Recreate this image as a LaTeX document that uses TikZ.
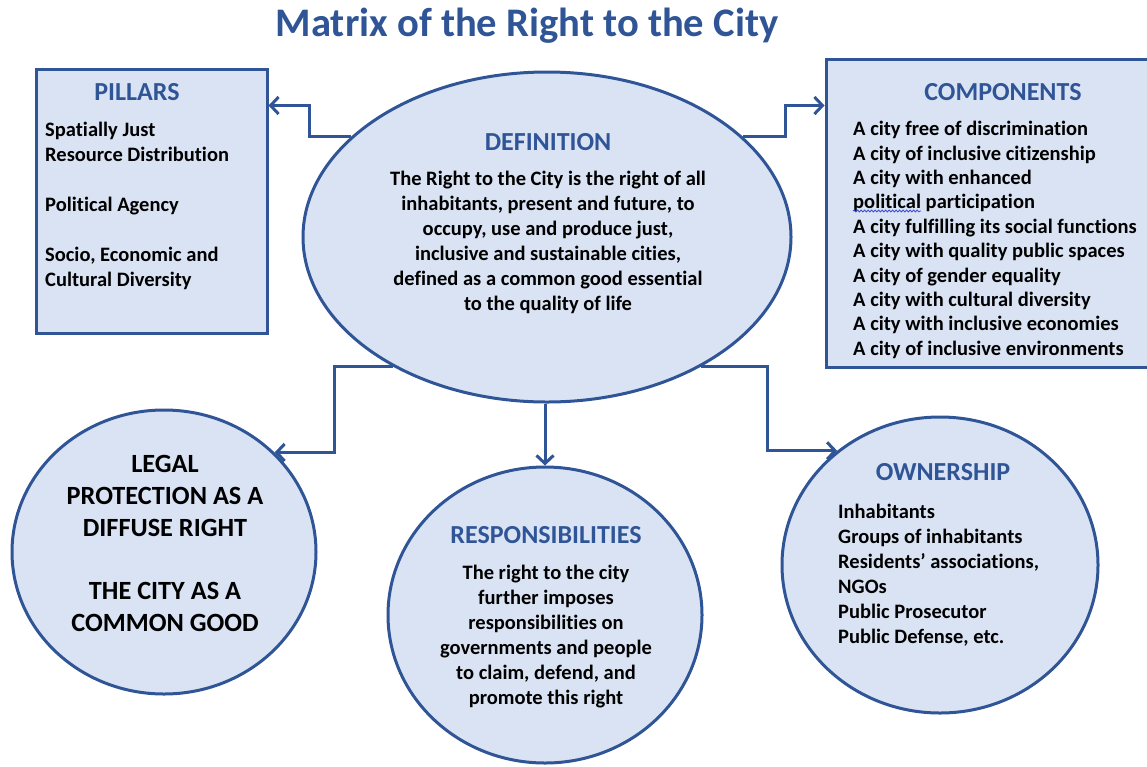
\documentclass[tikz,border=0pt]{standalone}
\usepackage{fontspec}
\setmainfont{Carlito}[Ligatures=CommonOff]
\usetikzlibrary{arrows.meta,shapes.geometric,decorations.pathmorphing}
\definecolor{bordercol}{HTML}{2F5597}
\definecolor{fillcol}{HTML}{DAE3F3}
\definecolor{headcol}{HTML}{2F5597}
\definecolor{spellcol}{HTML}{3A4FD0}
\begin{document}
\begin{tikzpicture}[x=1pt,y=-1pt,
  frame/.style={draw=bordercol, fill=fillcol, line width=3pt, rectangle, inner sep=0pt},
  oval/.style={draw=bordercol, fill=fillcol, line width=3pt, ellipse, inner sep=0pt},
  conn/.style={draw=bordercol, line width=3pt, -{Straight Barb[length=8pt,width=17pt]}},
  titletext/.style={text=headcol, font=\fontsize{40.6}{48}\selectfont\bfseries, inner sep=0pt},
  head/.style={text=headcol, font=\fontsize{26}{30}\selectfont\bfseries, inner sep=0pt},
  body/.style={text=black, font=\fontsize{20.5}{25}\selectfont\bfseries, inner sep=0pt},
  bigbody/.style={text=black, font=\fontsize{26.3}{31.8}\selectfont\bfseries, inner sep=0pt},
]
\useasboundingbox (0,0) rectangle (1147,766);
\clip (0,0) rectangle (1147,766);

% shapes
\node[frame, minimum width=231pt, minimum height=264pt] (pillars) at (151.5,201) {};
\node[frame, minimum width=322pt, minimum height=308pt] (comp) at (987,213) {};
\node[oval, minimum width=488pt, minimum height=330pt] (def) at (547,237) {};
\node[oval, minimum width=304pt, minimum height=284pt] (legal) at (164,552) {};
\node[oval, minimum width=314pt, minimum height=296pt] (resp) at (545,615) {};
\node[oval, minimum width=316pt, minimum height=296pt] (own) at (940,565) {};

% connectors
\draw[conn] (def.153) -| ([xshift=41pt,yshift=-38pt]pillars.north east) -- ([yshift=-38pt]pillars.north east);
\draw[conn] (def.27) -| ([xshift=-39pt,yshift=-48pt]comp.north west) -- ([yshift=-48pt]comp.north west);
\draw[conn] (def.220) -| ([xshift=60pt]legal.42) -- (legal.42);
\draw[conn] (def.south -| resp.north) -- (resp.north);
\draw[conn] (def.320) -| ([xshift=-70pt]own.132) -- (own.132);

% texts
\node[titletext] (ttl) at (527,26) {Matrix of the Right to the City};

\node[head] (pilh) at (137,92) {PILLARS};
\node[body, align=left, anchor=west] (pilb) at (45,205.5)
  {Spatially Just\\Resource Distribution\\[25pt]Political Agency\\[25pt]Socio, Economic and\\Cultural Diversity};

\node[head] (comph) at (1003,92) {COMPONENTS};
\node[body, align=left, anchor=west, font=\fontsize{20.5}{24.4}\selectfont\bfseries] (compb) at (853,240)
  {A city free of discrimination\\A city of inclusive citizenship\\A city with enhanced\\political participation\\A city fulfilling its social functions\\A city with quality public spaces\\A city of gender equality\\A city with cultural diversity\\A city with inclusive economies\\A city of inclusive environments};
\draw[spellcol, line width=0.8pt, decorate, decoration={snake, amplitude=1pt, segment length=3.5pt}] (853,211) -- (921,211);

\node[head] (defh) at (548,142) {DEFINITION};
\node[body, align=center] (defb) at (548,242.5)
  {The Right to the City is the right of all\\inhabitants, present and future, to\\occupy, use and produce just,\\inclusive and sustainable cities,\\defined as a common good essential\\to the quality of life};

\node[bigbody, align=center] (legalb) at (165,543.5)
  {LEGAL\\PROTECTION AS A\\DIFFUSE RIGHT\\[31.8pt]THE CITY AS A\\COMMON GOOD};

\node[head] (resph) at (546,535) {RESPONSIBILITIES};
\node[body, align=center] (respb) at (546,636.5)
  {The right to the city\\further imposes\\responsibilities on\\governments and people\\to claim, defend, and\\promote this right};

\node[head] (ownh) at (943,472) {OWNERSHIP};
\node[body, align=left, anchor=west] (ownb) at (838,575)
  {Inhabitants\\Groups of inhabitants\\Residents’ associations,\\NGOs\\Public Prosecutor\\Public Defense, etc.};
\end{tikzpicture}
\end{document}
